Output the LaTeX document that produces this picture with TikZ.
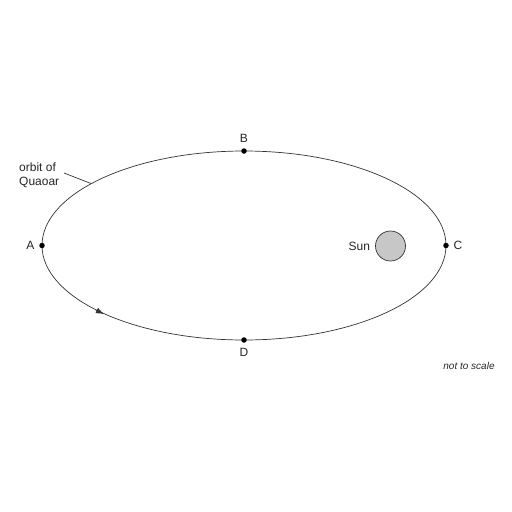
\documentclass[tikz,border=0pt]{standalone}
\usepackage{fontspec}
\setmainfont{Liberation Sans}
\usetikzlibrary{arrows.meta,positioning}
\begin{document}
\begin{tikzpicture}[x=1pt,y=-1pt,
  lbl/.style={font=\fontsize{12}{14}\selectfont, text=black!85, inner sep=0pt},
  orbitdot/.style={circle, fill=black, inner sep=0pt, minimum size=5.5pt},
  orbitline/.style={draw=black!80, line width=0.7pt}]
\useasboundingbox (0,0) rectangle (512,512);
\coordinate (O) at (244,245.5);
\draw[orbitline] (O) ellipse [x radius=202pt, y radius=94.5pt];
\node[orbitdot] (A) at (42,245.5) {};
\node[orbitdot] (C) at (446,245.5) {};
\node[orbitdot] (B) at (244,151) {};
\node[orbitdot] (D) at (244,340) {};
\node[lbl, left=4.5pt of A] {A};
\node[lbl, right=4.5pt of C] {C};
\node[lbl, above=5pt of B] {B};
\node[lbl, below=5pt of D] {D};
\node[circle, draw=black!80, fill=black!22, line width=0.7pt, minimum size=30pt, inner sep=0pt] (sun) at (390.5,246) {};
\node[lbl, left=5pt of sun] {Sun};
\node[lbl, align=left, anchor=west] (orbitlbl) at (19,175) {orbit of\\Quaoar};
\coordinate (lead0) at (64,173);
\coordinate (lead1) at (91,183.5);
\draw[draw=black!80, line width=0.7pt] (lead0) -- (lead1);
\coordinate (arrS) at (95.5,309.9);
\coordinate (arrE) at (104,314);
\draw[draw=black!80, line width=0.7pt, -{Latex[length=8pt,width=6pt]}] (arrS) -- (arrE);
\node[lbl, font=\fontsize{10}{12}\selectfont\itshape] (nts) at (469,366) {not to scale};
\end{tikzpicture}
\end{document}
